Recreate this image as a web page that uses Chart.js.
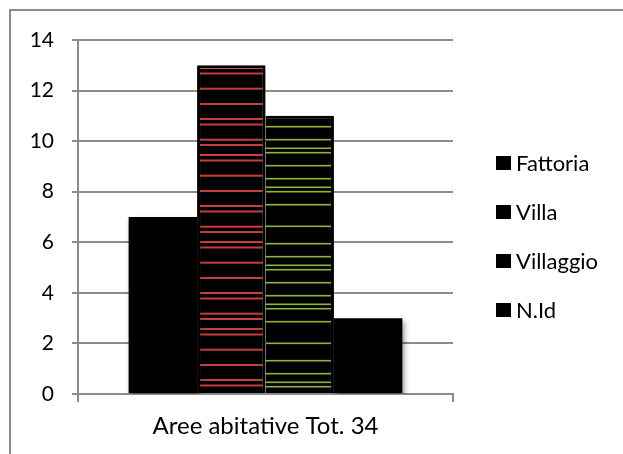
<!DOCTYPE html>
<html>
<head>
<meta charset="utf-8">
<script src="https://cdn.jsdelivr.net/npm/chart.js@4.4.1/dist/chart.umd.min.js"></script>
<style>
  html, body { margin: 0; padding: 0; background: #fff; overflow: hidden; }
  #wrap { position: relative; width: 623px; height: 454px; overflow: hidden; }
  #frame { position: absolute; left: 9px; top: 9px; width: 700px; height: 600px;
           border-top: 2px solid #8c8c8c; border-left: 2px solid #8c8c8c; }
  canvas { position: absolute; left: 0; top: 0; }
</style>
</head>
<body>
<div id="wrap">
  <div id="frame"></div>
  <canvas id="c" width="623" height="454"></canvas>
</div>
<script>
// Dwelling areas by settlement type (34 in total)
const categories = ['Aree abitative Tot. 34'];
const seriesNames = ['Fattoria', 'Villa', 'Villaggio', 'N.Id'];
const fattoria  = [7];
const villa     = [13];
const villaggio = [11];
const nId       = [3];
const yMin = 0, yMax = 14, yStep = 2;

const FONT = 'Lato, "Open Sans", sans-serif';
const GRID = '#8c8c8c';

const canvas = document.getElementById('c');
const ctx = canvas.getContext('2d');

// Black fill crossed by thin coloured hatching lines
function hatch(tileH, color, lines, thick) {
  const t = document.createElement('canvas');
  t.width = 8; t.height = tileH;
  const g = t.getContext('2d');
  g.fillStyle = '#000';
  g.fillRect(0, 0, 8, tileH);
  g.fillStyle = color;
  lines.forEach(y => g.fillRect(0, y - thick / 2, 8, thick));
  return ctx.createPattern(t, 'repeat');
}
const redHatch   = hatch(87,  '#c63f3a', [1.7, 17, 32, 37.5, 52.7, 58, 68, 73.5], 2);
const greenHatch = hatch(117, '#8db53c', [9.7, 22.7, 31.3, 35.7, 48.7, 61.7, 70.3, 74.7, 87.7, 109.3], 1.6);

// Soft drop shadow under the bars
const barShadow = {
  id: 'barShadow',
  beforeDatasetsDraw(chart) {
    const c = chart.ctx;
    c.save();
    c.shadowColor = 'rgba(0,0,0,0.45)';
    c.shadowBlur = 6;
    c.shadowOffsetX = 2;
    c.shadowOffsetY = 4;
  },
  afterDatasetsDraw(chart) { chart.ctx.restore(); }
};

// Legend: square key and series name, stacked on the right
const sideLegend = {
  id: 'sideLegend',
  afterDraw(chart) {
    const c = chart.ctx;
    const area = chart.chartArea;
    const x0 = area.right + 43;
    const y0 = 163, step = 49, box = 14;
    c.save();
    c.font = '22px ' + FONT;
    c.textBaseline = 'middle';
    c.textAlign = 'left';
    chart.data.datasets.forEach((ds, i) => {
      const yc = y0 + i * step;
      c.fillStyle = '#000';
      c.fillRect(x0, yc - box / 2, box + 1, box);
      c.fillText(ds.label, x0 + box + 6, yc + 1);
    });
    c.restore();
  }
};

new Chart(ctx, {
  type: 'bar',
  data: {
    labels: categories,
    datasets: [
      { label: seriesNames[0], data: fattoria,  backgroundColor: '#000', borderColor: '#000', borderWidth: 0 },
      { label: seriesNames[1], data: villa,     backgroundColor: redHatch, borderColor: '#000', borderWidth: 3 },
      { label: seriesNames[2], data: villaggio, backgroundColor: greenHatch, borderColor: '#000',
        borderWidth: { top: 3, right: 3, bottom: 3, left: 0 } },
      { label: seriesNames[3], data: nId,       backgroundColor: '#000', borderColor: '#000', borderWidth: 0 }
    ]
  },
  options: {
    responsive: false,
    animation: false,
    devicePixelRatio: 1,
    layout: { padding: { top: 40, right: 170, bottom: 0, left: 0 } },
    datasets: { bar: { barPercentage: 1, categoryPercentage: 0.73, borderSkipped: false } },
    plugins: { legend: { display: false }, tooltip: { enabled: false } },
    scales: {
      x: {
        offset: true,
        grid: { offset: true, drawOnChartArea: false, tickLength: 8, color: GRID, lineWidth: 2 },
        border: { color: GRID, width: 2 },
        ticks: { color: '#000', font: { family: FONT, size: 24 }, padding: 10 },
        afterFit(s) { s.height = 60; }
      },
      y: {
        min: yMin, max: yMax,
        ticks: { stepSize: yStep, color: '#000', font: { family: FONT, size: 21 }, padding: 18 },
        grid: { color: GRID, lineWidth: 2, tickLength: 6 },
        border: { color: GRID, width: 2 },
        afterFit(s) { s.width = 78; }
      }
    }
  },
  plugins: [barShadow, sideLegend]
});
</script>
</body>
</html>
